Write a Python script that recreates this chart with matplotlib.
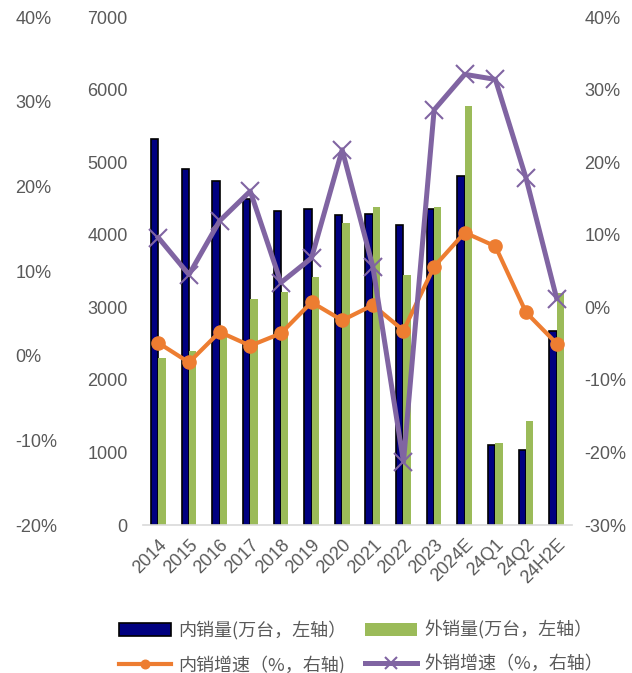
import matplotlib
matplotlib.use('Agg')
import matplotlib.pyplot as plt
import numpy as np
from matplotlib.ticker import FuncFormatter

# categories and values
years = ['2014', '2015', '2016', '2017', '2018', '2019', '2020', '2021',
         '2022', '2023', '2024E', '24Q1', '24Q2', '24H2E']
domestic = [5320, 4906, 4740, 4490, 4327, 4354, 4272, 4285,
            4134, 4354, 4809, 1102, 1033, 2673]
export = [2301, 2400, 2610, 3114, 3210, 3417, 4162, 4382,
          3445, 4382, 5774, 1130, 1433, 3200]
domestic_growth = [-4.9, -7.6, -3.4, -5.3, -3.6, 0.7, -1.8, 0.3,
                   -3.2, 5.6, 10.3, 8.4, -0.7, -5.0]
export_growth = [9.6, 4.5, 11.9, 16.0, 3.4, 6.8, 21.7, 5.6,
                 -21.3, 27.2, 32.1, 31.4, 17.8, 1.2]

labels = ['内销量(万台，左轴）', '外销量(万台，左轴）',
          '内销增速（%，右轴)', '外销增速（%，右轴）']

NAVY = '#000080'
GREEN = '#9BBB59'
ORANGE = '#ED7D31'
PURPLE = '#8064A2'
GREY = '#595959'

plt.rcParams['font.family'] = ['Liberation Sans', 'DejaVu Sans']

fig = plt.figure(figsize=(6.32, 6.73), dpi=100)
ax = fig.add_axes([143 / 632, 1 - 525 / 673, 429 / 632, 508 / 673])

x = np.arange(len(years))
w = 0.24
b1 = ax.bar(x - w / 2, domestic, w, color=NAVY, edgecolor='black', linewidth=1.2, zorder=2)
b2 = ax.bar(x + w / 2, export, w, color=GREEN, edgecolor='none', zorder=2)

ax.set_xlim(-0.5, len(years) - 0.5)
ax.set_ylim(0, 7000)
ax.set_yticks(range(0, 7001, 1000))
ax.set_xticks(x)
ax.set_xticklabels(years, rotation=45, ha='right', rotation_mode='anchor')
ax.tick_params(axis='x', length=0, pad=8, labelsize=13, colors=GREY)
ax.tick_params(axis='y', length=0, pad=11, labelsize=13, colors=GREY)
for s in ['top', 'right', 'left']:
    ax.spines[s].set_visible(False)
ax.spines['bottom'].set_color('#D9D9D9')
ax.spines['bottom'].set_linewidth(1.2)

# right axis with growth rates
ax2 = ax.twinx()
l1, = ax2.plot(x, domestic_growth, color=ORANGE, lw=3, marker='o', ms=9.5, zorder=3)
l2, = ax2.plot(x, export_growth, color=PURPLE, lw=3.6, marker='x', ms=13, mew=1.5, zorder=4)
ax2.set_ylim(-30, 40)
ax2.set_yticks(range(-30, 41, 10))
ax2.yaxis.set_major_formatter(FuncFormatter(lambda v, p: f'{v:.0f}%'))
ax2.tick_params(axis='y', length=0, pad=9, labelsize=13, colors=GREY)
for s in ax2.spines.values():
    s.set_visible(False)

# far-left percentage axis
ax3 = ax.twinx()
ax3.set_ylim(-20, 40)
ax3.set_yticks(range(-20, 41, 10))
ax3.yaxis.set_major_formatter(FuncFormatter(lambda v, p: f'{v:.0f}%'))
ax3.yaxis.tick_left()
ax3.tick_params(axis='y', length=0, pad=92, labelsize=13, colors=GREY)
for t in ax3.get_yticklabels():
    t.set_ha('left')
for s in ax3.spines.values():
    s.set_visible(False)
ax3.set_zorder(-1)

# legend fills column-wise, so reorder to get two rows
leg = fig.legend([b1, l1, b2, l2], [labels[0], labels[2], labels[1], labels[3]],
                 ncol=2, loc='lower left',
                 bbox_to_anchor=(108 / 632, -12 / 673), frameon=False,
                 prop={'family': ['Noto Sans CJK SC'], 'size': 13},
                 handlelength=2.9, handletextpad=0.4, columnspacing=1.0,
                 labelspacing=0.85, borderaxespad=0.2, markerscale=0.65)
for t in leg.get_texts():
    t.set_color(GREY)

fig.savefig('out.png', dpi=100)
